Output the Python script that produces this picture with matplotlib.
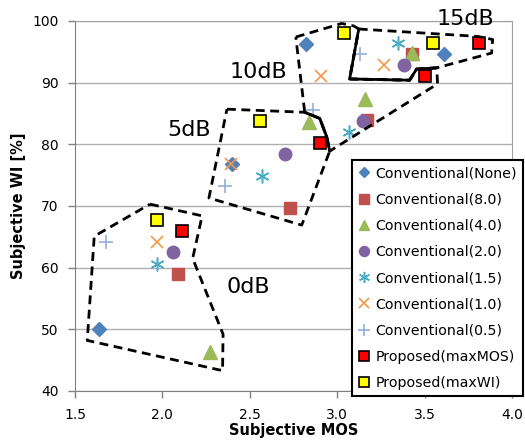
import matplotlib.pyplot as plt

# data: 4 points per series (0dB, 5dB, 10dB, 15dB)
names = ["Conventional(None)", "Conventional(8.0)", "Conventional(4.0)",
         "Conventional(2.0)", "Conventional(1.5)", "Conventional(1.0)",
         "Conventional(0.5)", "Proposed(maxMOS)", "Proposed(maxWI)"]
mos_none = [1.64, 2.40, 2.82, 3.61]
wi_none = [50.0, 76.8, 96.3, 94.7]
mos_80 = [2.09, 2.73, 3.17, 3.43]
wi_80 = [58.9, 69.6, 83.9, 94.7]
mos_40 = [2.27, 2.84, 3.16, 3.43]
wi_40 = [46.3, 83.7, 87.3, 94.8]
mos_20 = [2.06, 2.70, 3.15, 3.38]
wi_20 = [62.5, 78.5, 83.8, 92.8]
mos_15 = [1.97, 2.57, 3.07, 3.35]
wi_15 = [60.6, 74.9, 82.0, 96.4]
mos_10 = [1.97, 2.39, 2.91, 3.27]
wi_10 = [64.1, 76.8, 91.0, 92.8]
mos_05 = [1.68, 2.36, 2.86, 3.13]
wi_05 = [64.2, 73.2, 85.6, 94.7]
mos_maxmos = [2.11, 2.90, 3.50, 3.81]
wi_maxmos = [66.0, 80.2, 91.0, 96.4]
mos_maxwi = [1.97, 2.56, 3.04, 3.55]
wi_maxwi = [67.8, 83.8, 98.1, 96.4]

# hand-drawn group outlines
poly0_x = [1.929, 2.227, 2.173, 2.347, 2.344, 1.570, 1.610, 1.929]
poly0_y = [70.3, 68.4, 61.5, 49.2, 43.3, 48.2, 65.1, 70.3]
poly5_x = [2.369, 2.814, 2.900, 2.940, 2.957, 2.797, 2.266, 2.369]
poly5_y = [85.7, 85.2, 84.2, 81.2, 78.9, 66.9, 71.3, 85.7]
poly10_x = [2.763, 3.026, 3.094, 3.123, 3.071, 3.414, 3.454, 3.569, 3.574,
            2.957, 2.940, 2.900, 2.814, 2.763]
poly10_y = [97.4, 99.6, 99.2, 98.7, 90.6, 90.4, 92.2, 92.4, 89.8,
            78.9, 81.2, 84.2, 85.2, 97.4]
poly15_x = [3.123, 3.803, 3.889, 3.883, 3.569, 3.454, 3.414, 3.071, 3.123]
poly15_y = [98.7, 97.5, 97.0, 94.8, 92.4, 92.2, 90.4, 90.6, 98.7]

snr_labels = ["0dB", "5dB", "10dB", "15dB"]
label_x = [2.489, 2.151, 2.551, 3.734]
label_y = [56.9, 82.3, 91.7, 100.3]

fig = plt.figure(figsize=(5.25, 4.41), dpi=100)
ax = fig.add_axes([0.1429, 0.1134, 0.8324, 0.8390])

series = [
    (mos_none, wi_none, dict(marker='D', ms=7, color='#4F81BD', mec='#4F81BD')),
    (mos_80, wi_80, dict(marker='s', ms=8.5, color='#C0504D', mec='#C0504D')),
    (mos_40, wi_40, dict(marker='^', ms=9.5, color='#9BBB59', mec='#9BBB59')),
    (mos_20, wi_20, dict(marker='o', ms=9, color='#8064A2', mec='#8064A2')),
    (mos_15, wi_15, dict(marker=(6, 2, 0), ms=10, color='#4BACC6', mec='#4BACC6', mew=1.1)),
    (mos_10, wi_10, dict(marker='x', ms=9, color='#F79646', mec='#F79646', mew=1.2)),
    (mos_05, wi_05, dict(marker='+', ms=10, color='#95AEDA', mec='#95AEDA', mew=1.2)),
    (mos_maxmos, wi_maxmos, dict(marker='s', ms=8.5, color='#FF0000', mec='black', mew=1.2)),
    (mos_maxwi, wi_maxwi, dict(marker='s', ms=8.5, color='#FFFF00', mec='black', mew=1.2)),
]
for (xs, ys, st), nm in zip(series, names):
    ax.plot(xs, ys, linestyle='none', label=nm, zorder=3, **st)

# outlines (dashed), overlapping edges look solid
for px, py in [(poly0_x, poly0_y), (poly5_x, poly5_y),
               (poly10_x, poly10_y), (poly15_x, poly15_y)]:
    ax.plot(px, py, color='black', lw=2, dashes=(3.2, 2.0), zorder=4)
ax.plot(poly10_x[3:8], poly10_y[3:8], color='black', lw=2, zorder=4)
ax.plot(poly10_x[9:13], poly10_y[9:13], color='black', lw=2, zorder=4)

for t, lx, ly in zip(snr_labels, label_x, label_y):
    ax.text(lx, ly, t, fontsize=16, ha='center', va='center', zorder=5)

ax.set_xlim(1.5, 4.0)
ax.set_ylim(40, 100)
ax.set_xticks([1.5, 2.0, 2.5, 3.0, 3.5, 4.0])
ax.set_xticklabels(["1.5", "2.0", "2.5", "3.0", "3.5", "4.0"])
ax.set_yticks(range(40, 101, 10))
ax.yaxis.grid(True, color='#b0b0b0', lw=1)
ax.set_axisbelow(True)
ax.tick_params(axis='both', direction='out', length=5, width=1,
               labelsize=10, color='#808080', pad=7)
for s in ['top', 'right']:
    ax.spines[s].set_color('#a0a0a0')
for s in ['left', 'bottom']:
    ax.spines[s].set_color('#808080')
ax.set_xlabel("Subjective MOS", fontsize=10.5, fontweight='bold', labelpad=1)
ax.set_ylabel("Subjective WI [%]", fontsize=10.5, fontweight='bold', labelpad=4)

leg = ax.legend(loc='upper left', bbox_to_anchor=(352 / 525, 1 - 160 / 441),
                bbox_transform=fig.transFigure, fontsize=10.2, frameon=True,
                fancybox=False, handlelength=0.8, handletextpad=0.4,
                labelspacing=0.86, borderpad=0.45, borderaxespad=0,
                markerscale=0.8, numpoints=1)
leg.get_frame().set_edgecolor('black')
leg.get_frame().set_linewidth(1.5)
leg.get_frame().set_alpha(1)

fig.savefig("out.png", dpi=100)
